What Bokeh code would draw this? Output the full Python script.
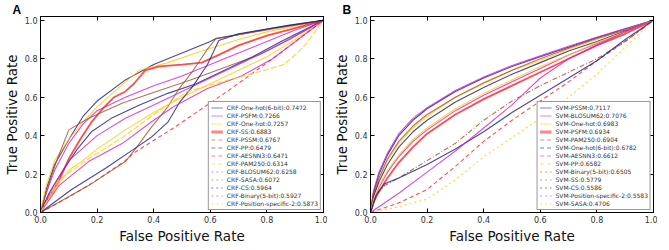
from bokeh.plotting import figure
from bokeh.models import Range1d, LinearAxis, FixedTicker, Legend, LegendItem, Title
from bokeh.layouts import row
from bokeh.embed import file_html
from bokeh.resources import INLINE

# ---------------- data ----------------
TICKS = [0.0, 0.2, 0.4, 0.6, 0.8, 1.0]
TICK_LABELS = ["0.0", "0.2", "0.4", "0.6", "0.8", "1.0"]

CRF_LABELS = ["CRF-One-hot(6-bit):0.7472", "CRF-PSFM:0.7266", "CRF-One-hot:0.7257",
              "CRF-SS:0.6883", "CRF-PSSM:0.6767", "CRF-PP:0.6479", "CRF-AESNN3:0.6471",
              "CRF-PAM250:0.6314", "CRF-BLOSUM62:0.6258", "CRF-SASA:0.6072",
              "CRF-CS:0.5964", "CRF-Binary(5-bit):0.5927", "CRF-Position-specific-2:0.5873"]
SVM_LABELS = ["SVM-PSSM:0.7117", "SVM-BLOSUM62:0.7076", "SVM-One-hot:0.6983",
              "SVM-PSFM:0.6934", "SVM-PAM250:0.6904", "SVM-One-hot(6-bit):0.6782",
              "SVM-AESNN3:0.6612", "SVM-PP:0.6582", "SVM-Binary(5-bit):0.6505",
              "SVM-SS:0.5779", "SVM-CS:0.5586", "SVM-Position-specific-2:0.5583",
              "SVM-SASA:0.4706"]

# CRF curves (false positive rate, true positive rate)
crf_onehot6_fpr = [0, 0.02, 0.05, 0.1, 0.15, 0.2, 0.3, 0.4, 0.5, 0.6, 0.62, 0.75, 0.88, 1.0]
crf_onehot6_tpr = [0, 0.12, 0.25, 0.38, 0.5, 0.58, 0.69, 0.77, 0.83, 0.89, 0.905, 0.94, 0.975, 1.0]
crf_psfm_fpr = [0, 0.02, 0.05, 0.1, 0.15, 0.2, 0.3, 0.4, 0.5, 0.6, 0.7, 0.8, 0.9, 1]
crf_psfm_tpr = [0, 0.1, 0.22, 0.36, 0.46, 0.53, 0.6, 0.66, 0.71, 0.77, 0.83, 0.89, 0.95, 1]
crf_onehot_fpr = [0, 0.02, 0.05, 0.1, 0.15, 0.2, 0.3, 0.35, 0.45, 0.57, 0.7, 0.8, 0.9, 1]
crf_onehot_tpr = [0, 0.14, 0.27, 0.38, 0.47, 0.55, 0.68, 0.74, 0.78, 0.84, 0.9, 0.94, 0.97, 1]
crf_ss_fpr = [0, 0.02, 0.04, 0.07, 0.1, 0.14, 0.18, 0.22, 0.26, 0.3, 0.33, 0.37, 0.42, 0.5,
              0.57, 0.63, 0.7, 0.8, 0.9, 1]
crf_ss_tpr = [0, 0.06, 0.1, 0.18, 0.28, 0.38, 0.47, 0.54, 0.6, 0.63, 0.67, 0.74, 0.76, 0.77,
              0.78, 0.82, 0.87, 0.92, 0.96, 1]
crf_pssm_fpr = [0, 0.03, 0.06, 0.1, 0.17, 0.29, 0.41, 0.53, 0.65, 0.77, 0.88, 1]
crf_pssm_tpr = [0, 0.15, 0.28, 0.43, 0.49, 0.57, 0.63, 0.69, 0.755, 0.82, 0.9, 1]
crf_pp_fpr = [0, 0.03, 0.08, 0.13, 0.18, 0.25, 0.35, 0.45, 0.55, 0.65, 0.75, 0.85, 1]
crf_pp_tpr = [0, 0.1, 0.22, 0.33, 0.42, 0.49, 0.56, 0.62, 0.67, 0.74, 0.81, 0.89, 1]
crf_aesnn3_fpr = [0, 0.05, 0.1, 0.2, 0.3, 0.4, 0.5, 0.6, 0.7, 0.8, 0.9, 1]
crf_aesnn3_tpr = [0, 0.15, 0.27, 0.4, 0.49, 0.56, 0.63, 0.7, 0.77, 0.84, 0.92, 1]
crf_pam250_fpr = [0, 0.05, 0.1, 0.15, 0.2, 0.3, 0.4, 0.5, 0.6, 0.7, 0.8, 0.9, 1]
crf_pam250_tpr = [0, 0.12, 0.22, 0.27, 0.33, 0.43, 0.52, 0.6, 0.67, 0.74, 0.81, 0.9, 1]
crf_blosum62_fpr = [0, 0.1, 0.2, 0.3, 0.33, 0.47, 0.65, 0.82, 1]
crf_blosum62_tpr = [0, 0.08, 0.17, 0.27, 0.31, 0.44, 0.62, 0.8, 1]
crf_sasa_fpr = [0, 0.17, 0.3, 0.34, 0.39, 0.45, 0.49, 0.54, 0.59, 0.62, 0.7, 0.82, 1]
crf_sasa_tpr = [0, 0.14, 0.265, 0.34, 0.44, 0.55, 0.645, 0.74, 0.85, 0.905, 0.925, 0.955, 1]
crf_cs_fpr = [0, 0.11, 0.23, 0.33, 0.39, 0.45, 0.49, 0.54, 0.59, 0.63, 0.7, 0.82, 1]
crf_cs_tpr = [0, 0.12, 0.23, 0.33, 0.39, 0.47, 0.57, 0.66, 0.77, 0.895, 0.93, 0.96, 1]
crf_binary5_fpr = [0, 0.065, 0.17, 0.29, 0.39, 0.47, 0.59, 0.71, 0.82, 1]
crf_binary5_tpr = [0, 0.14, 0.265, 0.36, 0.47, 0.55, 0.645, 0.71, 0.8, 1]
crf_ps2_fpr = [0, 0.065, 0.17, 0.29, 0.41, 0.52, 0.65, 0.77, 0.86, 0.91, 0.94, 1]
crf_ps2_tpr = [0, 0.17, 0.28, 0.39, 0.52, 0.63, 0.684, 0.731, 0.77, 0.834, 0.88, 1]

# SVM curves
svm_grid_fpr = [0, 0.01, 0.03, 0.06, 0.1, 0.15, 0.2, 0.3, 0.4, 0.5, 0.6, 0.7, 0.8, 0.9, 1]
svm_pssm_tpr = [0, 0.1, 0.2, 0.3, 0.4, 0.48, 0.54, 0.63, 0.70, 0.76, 0.81, 0.86, 0.91, 0.955, 1]
svm_blosum62_tpr = [0, 0.11, 0.21, 0.31, 0.41, 0.49, 0.545, 0.635, 0.705, 0.765, 0.815, 0.865, 0.912, 0.957, 1]
svm_onehot_tpr = [0, 0.08, 0.17, 0.27, 0.36, 0.44, 0.5, 0.6, 0.67, 0.74, 0.79, 0.85, 0.9, 0.95, 1]
svm_psfm_tpr = [0, 0.05, 0.11, 0.18, 0.26, 0.34, 0.41, 0.51, 0.59, 0.66, 0.73, 0.80, 0.87, 0.93, 1]
svm_pam250_tpr = [0, 0.09, 0.18, 0.28, 0.37, 0.45, 0.51, 0.6, 0.675, 0.74, 0.8, 0.855, 0.905, 0.95, 1]
svm_onehot6_tpr = [0, 0.08, 0.16, 0.25, 0.34, 0.42, 0.48, 0.575, 0.65, 0.72, 0.78, 0.84, 0.89, 0.945, 1]
svm_aesnn3_tpr = [0, 0.06, 0.13, 0.21, 0.29, 0.37, 0.43, 0.53, 0.61, 0.68, 0.75, 0.82, 0.88, 0.94, 1]
svm_pp_tpr = [0, 0.065, 0.14, 0.22, 0.3, 0.38, 0.44, 0.54, 0.62, 0.69, 0.76, 0.82, 0.885, 0.94, 1]
svm_binary5_fpr = [0, 0.1, 0.2, 0.3, 0.4, 0.5, 0.6, 0.7, 0.8, 0.9, 1]
svm_binary5_tpr = [0, 0.05, 0.12, 0.24, 0.37, 0.48, 0.58, 0.68, 0.79, 0.89, 1]
svm_low_fpr = [0, 0.02, 0.05, 0.1, 0.2, 0.3, 0.4, 0.5, 0.6, 0.7, 0.8, 0.9, 1]
svm_ss_tpr = [0, 0.09, 0.14, 0.18, 0.27, 0.36, 0.48, 0.58, 0.66, 0.73, 0.8, 0.89, 1]
svm_cs_tpr = [0, 0.09, 0.15, 0.18, 0.25, 0.33, 0.42, 0.52, 0.61, 0.7, 0.79, 0.9, 1]
svm_ps2_fpr = [0, 0.1, 0.2, 0.3, 0.4, 0.5, 0.55, 0.6, 0.7, 0.8, 0.9, 1]
svm_ps2_tpr = [0, 0.1, 0.21, 0.32, 0.44, 0.56, 0.63, 0.7, 0.8, 0.87, 0.94, 1]
svm_sasa_fpr = [0, 0.1, 0.2, 0.3, 0.4, 0.5, 0.6, 0.7, 0.8, 0.9, 1]
svm_sasa_tpr = [0, 0.03, 0.07, 0.17, 0.29, 0.39, 0.49, 0.6, 0.72, 0.86, 1]

# ---------------- styles ----------------
COLORS = ["#1a1a80", "#d020d0", "#ffcc00", "#ff2020", "#a0522d"]
LEGEND_DASH = ["solid"] * 4 + ["4 3"] * 4 + ["2 3"] * 5
CRF_PLOT_DASH = ["solid"] * 8 + ["4 3", "solid", "solid", "solid", "6 2"]
SVM_PLOT_DASH = ["solid"] * 8 + ["4 3", "5 2 1 2", "solid", "solid", "2 3"]

FONT = "DejaVu Sans"
FW, FH = 283, 196
NAN = float("nan")

crf_curves = [(crf_onehot6_fpr, crf_onehot6_tpr), (crf_psfm_fpr, crf_psfm_tpr),
              (crf_onehot_fpr, crf_onehot_tpr), (crf_ss_fpr, crf_ss_tpr),
              (crf_pssm_fpr, crf_pssm_tpr), (crf_pp_fpr, crf_pp_tpr),
              (crf_aesnn3_fpr, crf_aesnn3_tpr), (crf_pam250_fpr, crf_pam250_tpr),
              (crf_blosum62_fpr, crf_blosum62_tpr), (crf_sasa_fpr, crf_sasa_tpr),
              (crf_cs_fpr, crf_cs_tpr), (crf_binary5_fpr, crf_binary5_tpr),
              (crf_ps2_fpr, crf_ps2_tpr)]
svm_curves = [(svm_grid_fpr, svm_pssm_tpr), (svm_grid_fpr, svm_blosum62_tpr),
              (svm_grid_fpr, svm_onehot_tpr), (svm_grid_fpr, svm_psfm_tpr),
              (svm_grid_fpr, svm_pam250_tpr), (svm_grid_fpr, svm_onehot6_tpr),
              (svm_grid_fpr, svm_aesnn3_tpr), (svm_grid_fpr, svm_pp_tpr),
              (svm_binary5_fpr, svm_binary5_tpr), (svm_low_fpr, svm_ss_tpr),
              (svm_low_fpr, svm_cs_tpr), (svm_ps2_fpr, svm_ps2_tpr),
              (svm_sasa_fpr, svm_sasa_tpr)]


def style_axis(ax, label):
    ax.ticker = FixedTicker(ticks=TICKS)
    ax.major_label_overrides = dict(zip(TICKS, TICK_LABELS))
    ax.major_tick_in = 4
    ax.major_tick_out = 0
    ax.major_tick_line_color = "black"
    ax.minor_tick_line_color = None
    ax.axis_line_color = "black"
    ax.major_label_text_font = FONT
    ax.major_label_text_font_size = "8px"
    ax.major_label_text_color = "#333333"
    ax.major_label_standoff = 3
    ax.axis_label = label
    ax.axis_label_text_font = FONT
    ax.axis_label_text_font_size = "13.5px"
    ax.axis_label_text_font_style = "normal"
    ax.axis_label_text_color = "#111111"
    ax.axis_label_standoff = 2


def mirror_axis():
    return LinearAxis(ticker=FixedTicker(ticks=TICKS),
                      major_label_overrides={t: "" for t in TICKS},
                      major_label_text_font_size="8px",
                      major_label_standoff=0, major_tick_in=4, major_tick_out=0,
                      minor_tick_line_color=None, axis_line_color="black",
                      major_tick_line_color="black")


def make_panel(letter, curves, labels, plot_dash, thick_idx, min_left):
    p = figure(frame_width=FW, frame_height=FH, x_range=Range1d(0, 1), y_range=Range1d(0, 1.02),
               output_backend="svg", toolbar_location=None, min_border_left=min_left,
               min_border_right=4, min_border_top=0, min_border_bottom=0)
    p.grid.visible = False
    p.outline_line_color = "black"
    p.outline_line_width = 1
    style_axis(p.xaxis[0], "False Positive Rate")
    style_axis(p.yaxis[0], "True Positive Rate")
    p.add_layout(mirror_axis(), "above")
    p.add_layout(mirror_axis(), "right")

    # panel letter, shifted into the left border
    p.add_layout(Title(text=letter, align="left", offset=-28, standoff=0,
                       text_font="Liberation Sans", text_font_style="bold",
                       text_font_size="12px", text_line_height=0.5,
                       text_color="black"), "above")

    items = []
    for i, ((fx, fy), lab) in enumerate(zip(curves, labels)):
        col = COLORS[i % 5]
        w = 1.8 if i == thick_idx else 1.1
        p.line(fx, fy, line_color=col, line_width=w, line_alpha=0.8, line_dash=plot_dash[i])
        lw = 3 if i == 3 else 1.2
        # legend-only glyph (draws nothing in the plot), carries the legend line style
        r = p.line(x=[NAN], y=[NAN], line_color=col, line_width=lw, line_alpha=0.55,
                   line_dash=LEGEND_DASH[i])
        items.append(LegendItem(label=lab, renderers=[r]))

    legend = Legend(items=items, location="bottom_right", label_text_font=FONT,
                    label_text_font_size="6px", label_text_color="#333333",
                    glyph_width=12, glyph_height=7, label_height=7, spacing=1,
                    padding=2, margin=2, border_line_color="#333333",
                    border_line_width=1, label_standoff=4, background_fill_alpha=1)
    p.add_layout(legend)
    return p


pa = make_panel("A", crf_curves, CRF_LABELS, CRF_PLOT_DASH, 3, 0)
pb = make_panel("B", svm_curves, SVM_LABELS, SVM_PLOT_DASH, 3, 43)

layout = row(pa, pb)
open("out.html", "w").write(file_html(layout, INLINE))
